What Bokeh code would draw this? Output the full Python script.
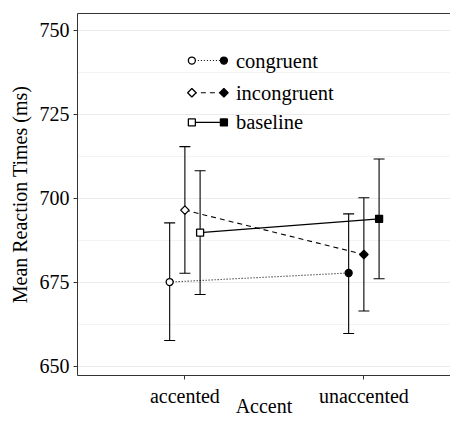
from bokeh.plotting import figure
from bokeh.models import (ColumnDataSource, Range1d, FixedTicker, LinearAxis, Whisker, TeeHead)
from bokeh.transform import dodge
from bokeh.core.properties import value
from bokeh.embed import file_html
from bokeh.resources import INLINE
import math

# ---- data ----
accents = ["accented", "unaccented"]
conditions = ["congruent", "incongruent", "baseline"]
congruent_mean = [675.1, 677.8]
congruent_lower = [657.7, 659.8]
congruent_upper = [692.7, 695.4]
incongruent_mean = [696.5, 683.3]
incongruent_lower = [677.7, 666.5]
incongruent_upper = [715.4, 700.2]
baseline_mean = [689.8, 693.9]
baseline_lower = [671.4, 676.1]
baseline_upper = [708.2, 711.7]
y_ticks = [650, 675, 700, 725, 750]

FONT = "Liberation Serif"
DARK = "#333333"

p = figure(width=450, height=419, output_backend="svg", toolbar_location=None,
           x_range=Range1d(0.4, 2.484), y_range=Range1d(647.3, 755),
           min_border_left=77, min_border_right=0, min_border_top=13, min_border_bottom=0)
p.outline_line_color = None
p.background_fill_color = "white"

# axes
p.yaxis.ticker = FixedTicker(ticks=y_ticks, minor_ticks=[662.5, 687.5, 712.5, 737.5])
xpos = [i + 1 for i in range(len(accents))]
p.xaxis.ticker = FixedTicker(ticks=xpos)
p.xaxis.major_label_overrides = {x: a for x, a in zip(xpos, accents)}
for ax in (p.xaxis, p.yaxis):
    ax.axis_line_color = DARK
    ax.major_tick_line_color = DARK
    ax.major_tick_out = 4
    ax.major_tick_in = 0
    ax.minor_tick_line_color = None
    ax.major_label_text_font = FONT
    ax.major_label_text_font_size = "20px"
    ax.major_label_text_color = "black"
    ax.axis_label_text_font = FONT
    ax.axis_label_text_font_size = "20px"
    ax.axis_label_text_font_style = "normal"
    ax.axis_label_text_color = "black"
p.xaxis.axis_label = "Accent"
p.yaxis.axis_label = "Mean Reaction Times (ms)"
p.yaxis.major_label_standoff = 4
p.yaxis.axis_label_standoff = 6
p.xaxis.major_label_standoff = 5
p.xaxis.axis_label_standoff = -15

top = LinearAxis(ticker=FixedTicker(ticks=[]), major_label_text_font_size="0px",
                 major_tick_line_color=None, minor_tick_line_color=None,
                 axis_line_color=DARK)
p.add_layout(top, "above")

# grid
p.xgrid.grid_line_color = None
p.ygrid.grid_line_color = "#ebebeb"
p.ygrid.grid_line_width = 1
p.ygrid.minor_grid_line_color = "#f0f0f0"
p.ygrid.minor_grid_line_width = 0.8

series = {
    "congruent": (congruent_mean, congruent_lower, congruent_upper, "circle", 0, 7, "1 2", -0.085),
    "incongruent": (incongruent_mean, incongruent_lower, incongruent_upper, "square", math.pi / 4, 6, "5 4", 0.0),
    "baseline": (baseline_mean, baseline_lower, baseline_upper, "square", 0, 7, "solid", 0.085),
}
fills = ["white", "black"]

for name in conditions:
    mean, lo, hi, marker, ang, size, dash, off = series[name]
    src = ColumnDataSource(dict(x=xpos, mean=mean, lower=lo, upper=hi, fill=fills))
    w = Whisker(source=src, base=dodge("x", off), upper="upper", lower="lower",
                line_color="black", line_width=1.1,
                upper_head=TeeHead(size=11, line_color="black", line_width=1.1),
                lower_head=TeeHead(size=11, line_color="black", line_width=1.1))
    p.add_layout(w)
    p.line(x=dodge("x", off), y="mean", source=src, line_color="black", line_width=1.1,
           line_dash=dash)
    p.scatter(x=dodge("x", off), y="mean", source=src, marker=marker, angle=ang, size=size,
              fill_color="fill", line_color="black", line_width=1.3)

# manual legend (layout positions)
leg_x_open, leg_x_fill, leg_x_text = 1.039, 1.218, 1.285
leg_rows = [741.0, 731.4, 722.6]
for name, ly in zip(conditions, leg_rows):
    mean, lo, hi, marker, ang, size, dash, off = series[name]
    p.line(x=[leg_x_open, leg_x_fill], y=[ly, ly], line_color="black", line_width=1.1,
           line_dash=dash)
    p.scatter(x=[leg_x_open], y=[ly], marker=marker, angle=ang, size=size,
              fill_color="white", line_color="black", line_width=1.3)
    p.scatter(x=[leg_x_fill], y=[ly], marker=marker, angle=ang, size=size,
              fill_color="black", line_color="black", line_width=1.3)
    p.text(x=[leg_x_text], y=[ly], text=[name], text_font=value(FONT),
           text_font_size=value("20.5px"), text_baseline="middle", text_align="left",
           text_color="black")

open("out.html", "w").write(file_html(p, INLINE))
